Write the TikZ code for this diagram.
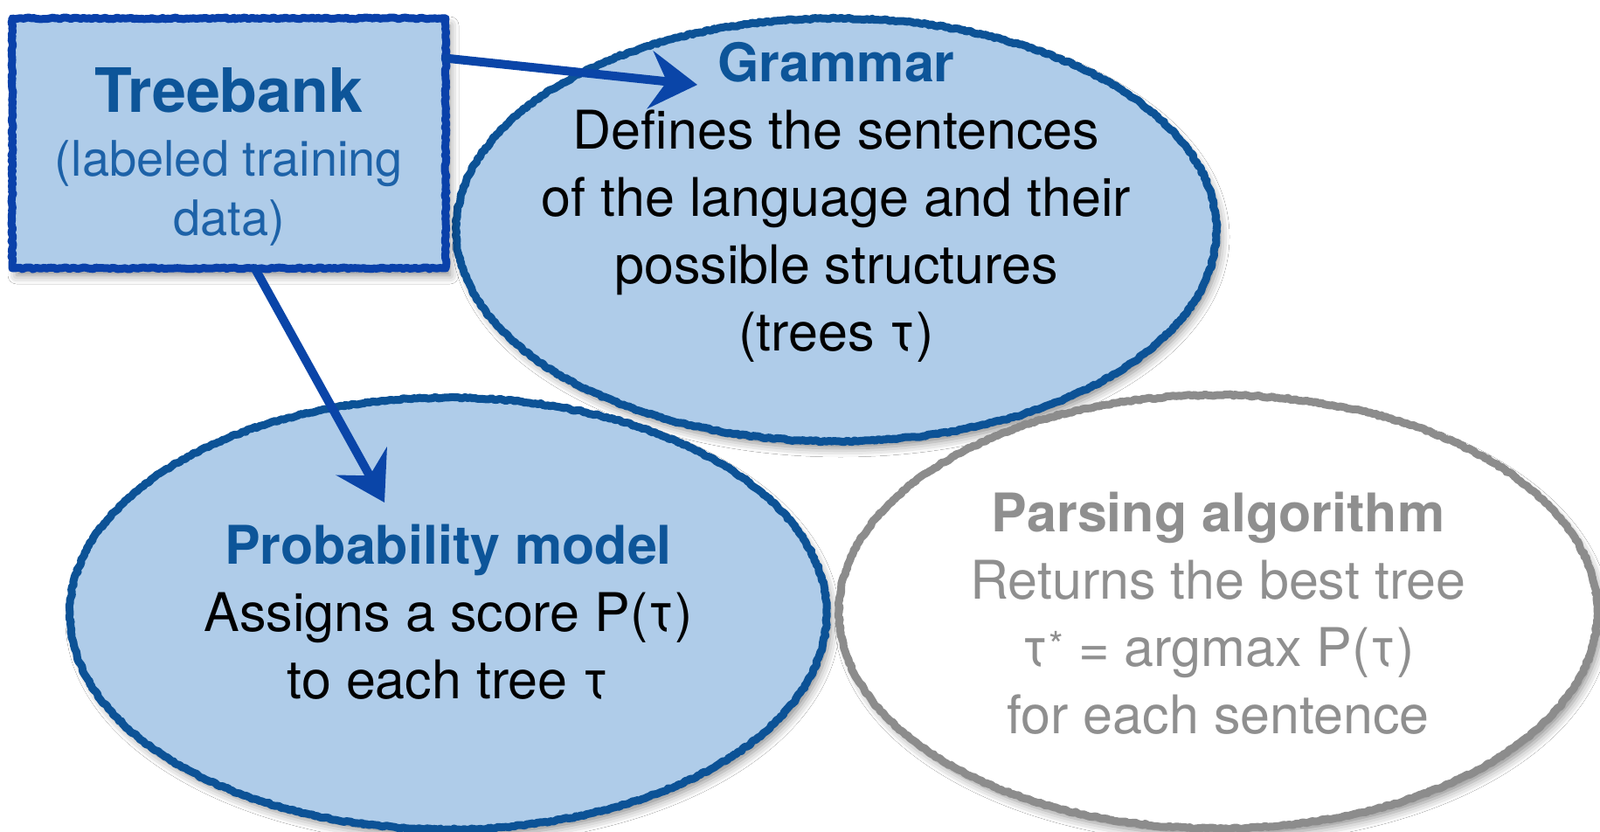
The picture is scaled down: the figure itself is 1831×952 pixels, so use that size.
\documentclass[tikz,border=0pt]{standalone}
\usepackage{fontspec}
\setmainfont{TeX Gyre Heros}
\usetikzlibrary{shapes.geometric,arrows.meta,shadows.blur,decorations.pathmorphing,calc}
\definecolor{fillblue}{RGB}{175,204,233}
\definecolor{edgeblue}{RGB}{12,82,150}
\definecolor{boxblue}{RGB}{10,65,170}
\definecolor{arrowblue}{RGB}{10,69,168}
\definecolor{titleblue}{RGB}{13,85,153}
\definecolor{subblue}{RGB}{29,98,168}
\definecolor{greyedge}{RGB}{140,140,140}
\definecolor{greytext}{RGB}{143,143,143}
\begin{document}
\begin{tikzpicture}[x=1pt,y=-1pt,
  rough/.style={decorate,decoration={random steps,segment length=3pt,amplitude=1pt}},
  softshadow/.style={blur shadow={shadow xshift=5pt,shadow yshift=-8pt,shadow blur radius=10pt,shadow opacity=45}},
  oval/.style={ellipse,inner sep=0pt,fill=fillblue,softshadow,
    postaction={draw=#1,line width=9pt,line join=round,rough}},
  oval/.default=edgeblue,
  boxnode/.style={rectangle,inner sep=0pt,fill=fillblue,softshadow,
    postaction={draw=boxblue,line width=9pt,line join=round,rough}},
  bodytext/.style={align=center,font=\fontsize{61}{77}\selectfont},
  flow/.style={draw=arrowblue,line width=10pt,line cap=round,
    -{Stealth[length=54pt,width=66pt,inset=19pt]}}
]
\fill[white] (0,0) rectangle (1831,952);
\useasboundingbox (0,0) rectangle (1831,952);

% shapes
\node[oval,minimum width=870pt,minimum height=484pt] (gram) at (957,263) {};
\node[oval,minimum width=866pt,minimum height=494pt] (prob) at (513,702) {};
\node[oval=greyedge,fill=white,minimum width=868pt,minimum height=496pt] (pars) at (1394,700) {};
\node[boxnode,minimum width=496pt,minimum height=286pt] (tb) at (262,164) {};

% texts
\node[text=titleblue,font=\fontsize{70}{84}\selectfont\bfseries] (tbtitle) at (262,103) {Treebank};
\node[text=subblue,align=center,font=\fontsize{56}{68}\selectfont] (tbsub) at (262,221) {(labeled training\\data)};

\node[bodytext] (gtext) at (957,231) {\textcolor{titleblue}{\bfseries Grammar}\\Defines the sentences\\of the language and their\\possible structures\\(trees τ)};
\node[bodytext] (ptext) at (513,700) {\textcolor{titleblue}{\bfseries Probability model}\\Assigns a score P(τ)\\to each tree τ};
\node[bodytext,text=greytext] (atext) at (1394,702) {{\bfseries Parsing algorithm}\\Returns the best tree\\τ\textsuperscript{*} = argmax P(τ)\\for each sentence};

% connectors
\coordinate (gtip) at (798,97);
\coordinate (ptip) at (440,575);
\draw[flow] ($(tb.north east)!0.16!(tb.south east)$) -- (gtip);
\draw[flow] ($(tb.south west)!0.56!(tb.south east)$) -- (ptip);
\end{tikzpicture}
\end{document}
